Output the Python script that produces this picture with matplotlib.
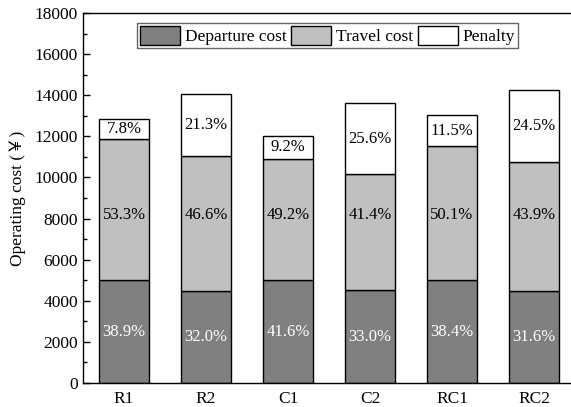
import numpy as np
import matplotlib.pyplot as plt
from matplotlib.patches import Patch
from matplotlib.ticker import MultipleLocator

# instance groups and cost breakdown (share of total operating cost, %)
instances = ['R1', 'R2', 'C1', 'C2', 'RC1', 'RC2']
total_cost = [12850, 14060, 12020, 13640, 13020, 14240]
departure_pct = [38.9, 32.0, 41.6, 33.0, 38.4, 31.6]
travel_pct = [53.3, 46.6, 49.2, 41.4, 50.1, 43.9]
penalty_pct = [7.8, 21.3, 9.2, 25.6, 11.5, 24.5]

series_names = ['Departure cost', 'Travel cost', 'Penalty']
series_colors = ['#808080', '#c0c0c0', '#ffffff']
label_colors = ['white', 'black', 'black']

plt.rcParams['font.family'] = ['Liberation Serif', 'Noto Sans CJK SC']
plt.rcParams['font.size'] = 12

total = np.array(total_cost, dtype=float)
pcts = [np.array(p) for p in (departure_pct, travel_pct, penalty_pct)]
segments = [total * p / 100 for p in pcts]

fig = plt.figure(figsize=(5.71, 4.07), dpi=100)
ax = fig.add_axes([83 / 571, 1 - 383 / 407, 492 / 571, 370 / 407])

x = np.arange(len(instances))
bottom = np.zeros(len(instances))
for seg, pct, color, name, tcol, k in zip(segments, pcts, series_colors,
                                           series_names, label_colors, range(3)):
    ax.bar(x, seg, width=0.6, bottom=bottom, color=color, edgecolor='black',
           linewidth=1.0, label=name, zorder=2)
    for i in range(len(x)):
        if k == 1:
            # travel-cost labels share one height
            ypos = 8150
        else:
            ypos = bottom[i] + seg[i] / 2
        ax.text(x[i], ypos, f'{pct[i]:.1f}%', ha='center', va='center',
                color=tcol, fontsize=12, zorder=3)
    bottom = bottom + seg

ax.set_xlim(-0.5, 5.5)
ax.set_ylim(0, 18000)
ax.set_xticks(x)
ax.set_xticklabels(instances)
ax.yaxis.set_major_locator(MultipleLocator(2000))
ax.yaxis.set_minor_locator(MultipleLocator(1000))
ax.tick_params(axis='y', which='major', direction='in', length=5, width=1)
ax.tick_params(axis='y', which='minor', direction='in', length=3, width=1)
ax.tick_params(axis='x', length=0, pad=6)
ax.tick_params(labelsize=12.5)
ax.set_ylabel('Operating cost (￥)', fontsize=12.5, labelpad=6)
for sp in ax.spines.values():
    sp.set_linewidth(1.0)

handles = [Patch(facecolor=c, edgecolor='black', linewidth=1.0) for c in series_colors]
leg = ax.legend(handles, series_names, loc='upper center', ncol=3,
                bbox_to_anchor=(0.497, 0.972), frameon=True, fancybox=False,
                edgecolor='#404040', handlelength=2.3, handleheight=1.3,
                handletextpad=0.3, columnspacing=0.25, borderpad=0.15,
                borderaxespad=0, fontsize=12.5)
leg.get_frame().set_linewidth(1.0)

fig.savefig('out.png', dpi=100)
